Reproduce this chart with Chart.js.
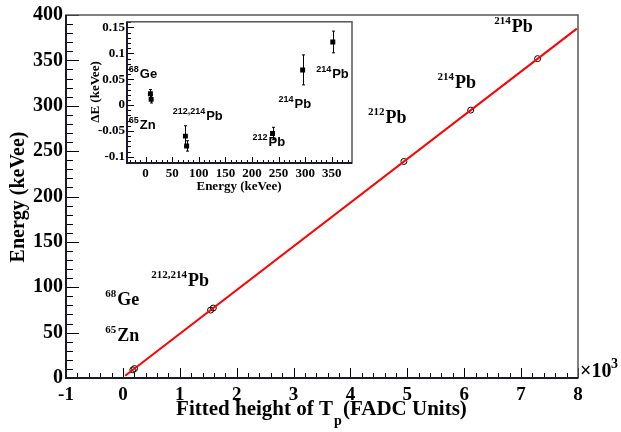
<!DOCTYPE html>
<html>
<head>
<meta charset="utf-8">
<script src="https://cdn.jsdelivr.net/npm/chart.js@4.4.0/dist/chart.umd.min.js"></script>
<style>
  body { margin: 0; background: #fff; }
  #wrap { position: relative; width: 621px; height: 432px; }
  #main { position: absolute; left: 0; top: 0; }
  #inset { position: absolute; left: 90px; top: 12px; }
</style>
</head>
<body>
<div id="wrap">
  <canvas id="main" width="621" height="432"></canvas>
  <canvas id="inset" width="275" height="185"></canvas>
</div>
<script>
// calibration lines: fitted pulse height (x1000 FADC units) vs line energy (keVee)
const fittedHeight = [0.176, 0.205, 1.541, 1.589, 4.94, 6.114, 7.29];
const lineEnergy = [8.98, 10.37, 74.8, 77.1, 238.6, 295.2, 351.9];

// straight line fit, as drawn
const fitHeight = [0.04, 7.98];
const fitEnergy = [2.4, 385];

// fit residuals for the inset
const residual = [0.022, 0.011, -0.060, -0.079, -0.055, 0.068, 0.122];
const residualErr = [0.008, 0.007, 0.020, 0.010, 0.012, 0.029, 0.021];

// tick labels
const mainXTicks = [-1, 0, 1, 2, 3, 4, 5, 6, 7, 8];
const mainYTicks = [0, 50, 100, 150, 200, 250, 300, 350, 400];
const insetXTicks = [0, 50, 100, 150, 200, 250, 300, 350];
const insetYTicks = [-0.1, -0.05, 0, 0.05, 0.1, 0.15];

// isotope tags: superscript, symbol, x, y (data units)
const mainTags = [
  ['65', 'Zn', -0.31, 41],
  ['68', 'Ge', -0.31, 80],
  ['212,214', 'Pb', 0.5, 101],
  ['212', 'Pb', 4.31, 281.5],
  ['214', 'Pb', 5.53, 320],
  ['214', 'Pb', 6.53, 381]
];
const insetTags = [
  ['68', 'Ge', -31.7, 0.053],
  ['65', 'Zn', -31.7, -0.047],
  ['212,214', 'Pb', 50.8, -0.0295],
  ['212', 'Pb', 201, -0.079],
  ['214', 'Pb', 250, -0.0064],
  ['214', 'Pb', 320.6, 0.0529]
];

const SERIF = '"Liberation Serif", "DejaVu Serif", serif';
const SANS = '"Liberation Sans", Arial, sans-serif';

// major ticks plus minor subdivisions, ROOT style
function tickBuilder(major, step) {
  return function(scale) {
    const out = [];
    const k0 = Math.ceil(scale.min / step - 1e-6);
    const k1 = Math.floor(scale.max / step + 1e-6);
    for (let k = k0; k <= k1; k++) {
      const v = Math.round(k * step * 1e6) / 1e6;
      const isMajor = major.some(m => Math.abs(m - v) < step / 10);
      out.push({ value: v, isMajor: isMajor });
    }
    scale.ticks = out;
  };
}
function tickLabel(value, index, ticks) {
  return ticks[index].isMajor ? String(value) : '';
}

function drawTag(ctx, x, y, sup, sym, supFont, symFont, raise) {
  ctx.textAlign = 'left';
  ctx.textBaseline = 'alphabetic';
  ctx.font = supFont;
  ctx.fillText(sup, x, y - raise);
  const w = ctx.measureText(sup).width;
  ctx.font = symFont;
  ctx.fillText(sym, x + w + 1, y);
}

// ticks drawn inside the frame, plus the frame itself
const insideTicks = {
  id: 'insideTicks',
  afterDraw(chart, args, o) {
    const ctx = chart.ctx;
    const a = chart.chartArea;
    const xs = chart.scales.x, ys = chart.scales.y;
    ctx.save();
    ctx.strokeStyle = '#000';
    ctx.lineWidth = 1;
    ctx.beginPath();
    xs.ticks.forEach(t => {
      const px = Math.round(xs.getPixelForValue(t.value)) + 0.5;
      const len = t.isMajor ? o.xMajor : o.xMinor;
      ctx.moveTo(px, a.bottom);
      ctx.lineTo(px, a.bottom - len);
    });
    ys.ticks.forEach(t => {
      const py = Math.round(ys.getPixelForValue(t.value)) + 0.5;
      const len = t.isMajor ? o.yMajor : o.yMinor;
      ctx.moveTo(a.left, py);
      ctx.lineTo(a.left + len, py);
    });
    ctx.stroke();
    ctx.strokeStyle = '#555';
    ctx.lineWidth = 1.5;
    ctx.strokeRect(a.left, a.top, a.right - a.left, a.bottom - a.top);
    ctx.strokeStyle = '#1a1a33';
    ctx.lineWidth = 2;
    ctx.beginPath();
    ctx.moveTo(a.left, a.top);
    ctx.lineTo(a.left, a.bottom);
    ctx.lineTo(a.right, a.bottom);
    ctx.stroke();
    ctx.restore();
  }
};

const mainText = {
  id: 'mainText',
  afterDraw(chart) {
    const ctx = chart.ctx;
    const xs = chart.scales.x, ys = chart.scales.y;
    ctx.save();
    ctx.fillStyle = '#000';
    mainTags.forEach(t => {
      drawTag(ctx, xs.getPixelForValue(t[2]), ys.getPixelForValue(t[3]), t[0], t[1],
        'bold 11px ' + SERIF, 'bold 18px ' + SERIF, 8);
    });
    // y title
    ctx.save();
    ctx.translate(24, 197);
    ctx.rotate(-Math.PI / 2);
    ctx.textAlign = 'center';
    ctx.textBaseline = 'alphabetic';
    ctx.font = 'bold 20px ' + SERIF;
    ctx.fillText('Energy (keVee)', 0, 0);
    ctx.restore();
    // x title with subscript
    const partA = 'Fitted height of T', partB = '(FADC Units)';
    ctx.font = 'bold 21px ' + SERIF;
    const wA = ctx.measureText(partA).width;
    ctx.textAlign = 'left';
    ctx.textBaseline = 'alphabetic';
    let x0 = 333 - wA;
    ctx.fillText(partA, x0, 415);
    ctx.font = 'bold 14px ' + SERIF;
    ctx.fillText('p', x0 + wA + 1, 425);
    ctx.font = 'bold 21px ' + SERIF;
    ctx.fillText(partB, 343, 415);
    // exponent
    ctx.font = 'bold 20px ' + SERIF;
    ctx.fillText('\u00d710', 580, 377);
    ctx.font = 'bold 14px ' + SERIF;
    ctx.fillText('3', 611, 368);
    ctx.restore();
  }
};

const insetDecor = {
  id: 'insetDecor',
  beforeDraw(chart) {
    const a = chart.chartArea;
    chart.ctx.save();
    chart.ctx.fillStyle = '#fff';
    chart.ctx.fillRect(a.left, a.top, a.right - a.left, a.bottom - a.top);
    chart.ctx.restore();
  },
  afterDatasetsDraw(chart) {
    const ctx = chart.ctx;
    const xs = chart.scales.x, ys = chart.scales.y;
    ctx.save();
    ctx.strokeStyle = '#000';
    ctx.lineWidth = 1;
    ctx.beginPath();
    lineEnergy.forEach((e, i) => {
      const px = Math.round(xs.getPixelForValue(e)) + 0.5;
      const yTop = ys.getPixelForValue(residual[i] + residualErr[i]);
      const yBot = ys.getPixelForValue(residual[i] - residualErr[i]);
      ctx.moveTo(px, yTop); ctx.lineTo(px, yBot);
      ctx.moveTo(px - 1.5, yTop); ctx.lineTo(px + 1.5, yTop);
      ctx.moveTo(px - 1.5, yBot); ctx.lineTo(px + 1.5, yBot);
    });
    ctx.stroke();
    ctx.restore();
  },
  afterDraw(chart) {
    const ctx = chart.ctx;
    const xs = chart.scales.x, ys = chart.scales.y;
    ctx.save();
    ctx.fillStyle = '#000';
    insetTags.forEach(t => {
      drawTag(ctx, xs.getPixelForValue(t[2]), ys.getPixelForValue(t[3]), t[0], t[1],
        'bold 9px ' + SANS, 'bold 13px ' + SANS, 6);
    });
    ctx.font = 'bold 13px ' + SERIF;
    ctx.textAlign = 'center';
    ctx.textBaseline = 'alphabetic';
    ctx.fillText('Energy (keVee)', 149, 178);
    ctx.save();
    ctx.translate(9, 80);
    ctx.rotate(-Math.PI / 2);
    ctx.fillText('\u0394E (keVee)', 0, 0);
    ctx.restore();
    ctx.restore();
  }
};

new Chart(document.getElementById('main'), {
  data: {
    datasets: [
      {
        type: 'line',
        data: fitHeight.map((h, i) => ({ x: h, y: fitEnergy[i] })),
        borderColor: '#ff0000',
        borderWidth: 2,
        pointRadius: 0
      },
      {
        type: 'scatter',
        data: fittedHeight.map((h, i) => ({ x: h, y: lineEnergy[i] })),
        pointStyle: 'circle',
        pointRadius: 3,
        borderColor: '#000',
        backgroundColor: 'rgba(0,0,0,0)',
        borderWidth: 1
      }
    ]
  },
  options: {
    responsive: false,
    animation: false,
    layout: { padding: { top: 9, right: 43, left: 0, bottom: 0 } },
    plugins: {
      legend: { display: false },
      tooltip: { enabled: false },
      insideTicks: { xMajor: 10, xMinor: 5, yMajor: 13, yMinor: 7 }
    },
    scales: {
      x: {
        type: 'linear',
        min: -1, max: 8,
        grid: { display: false, drawTicks: false },
        border: { display: false },
        afterBuildTicks: tickBuilder(mainXTicks, 0.2),
        afterFit(s) { s.height = 54; },
        ticks: {
          callback: tickLabel, autoSkip: false, maxRotation: 0, minRotation: 0,
          padding: 6, color: '#000', font: { family: SERIF, size: 19, weight: 'bold' }
        }
      },
      y: {
        type: 'linear',
        min: 0, max: 400,
        grid: { display: false, drawTicks: false },
        border: { display: false },
        afterBuildTicks: tickBuilder(mainYTicks, 10),
        afterFit(s) { s.width = 66; },
        ticks: {
          callback: tickLabel, autoSkip: false,
          padding: 3, color: '#000', font: { family: SERIF, size: 20, weight: 'bold' }
        }
      }
    }
  },
  plugins: [insideTicks, mainText]
});

new Chart(document.getElementById('inset'), {
  type: 'scatter',
  data: {
    datasets: [{
      data: lineEnergy.map((e, i) => ({ x: e, y: residual[i] })),
      pointStyle: 'rect',
      pointRadius: 3.5,
      backgroundColor: '#000',
      borderColor: '#000',
      borderWidth: 0
    }]
  },
  options: {
    responsive: false,
    animation: false,
    layout: { padding: { top: 9, right: 13, left: 0, bottom: 0 } },
    plugins: {
      legend: { display: false },
      tooltip: { enabled: false },
      insideTicks: { xMajor: 6, xMinor: 3, yMajor: 7, yMinor: 4 }
    },
    scales: {
      x: {
        type: 'linear',
        min: -35, max: 388,
        grid: { display: false, drawTicks: false },
        border: { display: false },
        afterBuildTicks: tickBuilder(insetXTicks, 10),
        afterFit(s) { s.height = 34; },
        ticks: {
          callback: tickLabel, autoSkip: false, maxRotation: 0, minRotation: 0,
          padding: 3, color: '#000', font: { family: SERIF, size: 13, weight: 'bold' }
        }
      },
      y: {
        type: 'linear',
        min: -0.112, max: 0.161,
        grid: { display: false, drawTicks: false },
        border: { display: false },
        afterBuildTicks: tickBuilder(insetYTicks, 0.01),
        afterFit(s) { s.width = 37; },
        ticks: {
          callback: tickLabel, autoSkip: false,
          padding: 2, color: '#000', font: { family: SERIF, size: 13, weight: 'bold' }
        }
      }
    }
  },
  plugins: [insideTicks, insetDecor]
});
</script>
</body>
</html>
